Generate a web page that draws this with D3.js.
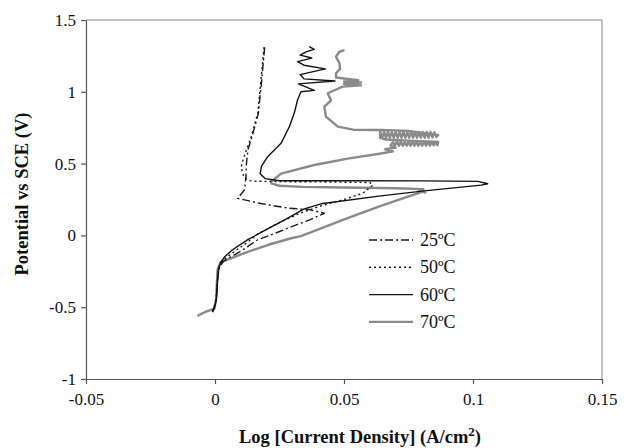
<!DOCTYPE html>
<html><head><meta charset="utf-8">
<script src="https://cdn.jsdelivr.net/npm/d3@7"></script>
<style>
html,body{margin:0;padding:0;background:#fff;}
svg text{font-family:"Liberation Serif","Times New Roman",serif;fill:#111;}
</style></head>
<body><svg id="chart" width="633" height="448"></svg>
<script>
// ---- data ----
const xTicks = [-0.05, 0, 0.05, 0.1, 0.15];
const yTicks = [-1, -0.5, 0, 0.5, 1, 1.5];
const xTickLabels = ["-0.05", "0", "0.05", "0.1", "0.15"];
const yTickLabels = ["-1", "-0.5", "0", "0.5", "1", "1.5"];
const seriesNames = ["25ºC", "50ºC", "60ºC", "70ºC"];

const curve25 = [[-0.001,-0.53],[-0.0003,-0.5],[0.0005,-0.44],[0.001,-0.3],[0.0017,-0.22],[0.0033,-0.18],[0.006,-0.15],[0.01,-0.11],[0.0166,-0.03],[0.024,0.02],[0.031,0.07],[0.037,0.11],[0.0424,0.154],[0.0365,0.18],[0.0282,0.19],[0.0178,0.222],[0.0088,0.258],[0.0114,0.316],[0.012,0.409],[0.0122,0.503],[0.0128,0.6],[0.0144,0.69],[0.0168,0.85],[0.0181,1.08],[0.0193,1.32]];

const curve50 = [[-0.001,-0.53],[-0.0003,-0.5],[0.0005,-0.44],[0.001,-0.3],[0.0016,-0.22],[0.003,-0.175],[0.0055,-0.14],[0.0085,-0.1],[0.0125,-0.05],[0.0165,0.01],[0.025,0.09],[0.033,0.155],[0.041,0.205],[0.05,0.25],[0.0572,0.293],[0.0612,0.35],[0.06,0.368],[0.045,0.372],[0.03,0.374],[0.016,0.377],[0.0128,0.382],[0.0112,0.407],[0.0101,0.476],[0.0112,0.546],[0.014,0.685],[0.0166,0.852],[0.0178,1.082],[0.0191,1.326]];

const curve60 = [[-0.001,-0.535],[-0.0003,-0.51],[0.0005,-0.45],[0.001,-0.31],[0.0014,-0.23],[0.0023,-0.185],[0.0038,-0.148],[0.0068,-0.1],[0.0127,-0.03],[0.0204,0.045],[0.0256,0.095],[0.0346,0.185],[0.0411,0.22],[0.0643,0.275],[0.0811,0.31],[0.1031,0.35],[0.1057,0.36],[0.102,0.376],[0.08,0.38],[0.05,0.381],[0.025,0.381],[0.0195,0.395],[0.0175,0.43],[0.018,0.48],[0.0204,0.548],[0.0256,0.641],[0.0288,0.757],[0.0307,0.85],[0.032,0.943],[0.0333,1.0],[0.0385,1.01],[0.0323,1.055],[0.0465,1.075],[0.0345,1.09],[0.033,1.12],[0.0428,1.16],[0.0345,1.185],[0.032,1.21],[0.0375,1.235],[0.033,1.255],[0.0355,1.28],[0.0385,1.295],[0.0365,1.315]];

const curve70 = [[-0.0068,-0.56],[-0.004,-0.535],[-0.0003,-0.51],[0.0004,-0.45],[0.0008,-0.31],[0.001,-0.24],[0.002,-0.19],[0.0049,-0.168],[0.0127,-0.114],[0.0204,-0.067],[0.0295,-0.02],[0.0333,-0.005],[0.0514,0.12],[0.0643,0.205],[0.0805,0.305],[0.0815,0.298],[0.079,0.316],[0.0808,0.322],[0.07,0.328],[0.05,0.334],[0.034,0.338],[0.025,0.346],[0.022,0.36],[0.0217,0.374],[0.0235,0.4],[0.0256,0.43],[0.0385,0.49],[0.0514,0.535],[0.0643,0.57],[0.069,0.585],[0.066,0.6],[0.07,0.612],[0.068,0.625],
 [0.069,0.652],[0.0697,0.625],[0.0705,0.652],[0.0713,0.625],[0.072,0.652],[0.0728,0.625],[0.0735,0.652],[0.0743,0.625],[0.075,0.652],[0.0758,0.625],[0.0765,0.652],[0.0773,0.625],[0.078,0.652],[0.0788,0.625],[0.0795,0.652],[0.0803,0.625],[0.081,0.652],[0.0818,0.625],[0.0825,0.652],[0.0833,0.625],[0.084,0.652],[0.0848,0.627],[0.0855,0.652],[0.0862,0.628],[0.0865,0.65],[0.075,0.66],[0.066,0.668],[0.064,0.68],
 [0.064,0.72],[0.0648,0.68],[0.0655,0.72],[0.0663,0.68],[0.067,0.72],[0.0678,0.68],[0.0685,0.72],[0.0693,0.68],[0.07,0.72],[0.0708,0.68],[0.0715,0.72],[0.0723,0.68],[0.073,0.72],[0.0738,0.68],[0.0745,0.72],[0.0753,0.68],[0.076,0.72],[0.0768,0.68],[0.0775,0.72],[0.0783,0.68],[0.079,0.72],[0.0798,0.68],[0.0805,0.72],[0.0813,0.68],[0.082,0.72],[0.0828,0.68],[0.0835,0.72],[0.0843,0.682],[0.085,0.718],[0.0858,0.685],[0.0865,0.7],[0.075,0.728],[0.0643,0.734],[0.054,0.735],[0.0476,0.757],[0.043,0.827],[0.0424,0.896],[0.045,0.94],[0.0437,0.99],[0.0495,1.036],[0.0566,1.045],[0.05,1.055],[0.0566,1.065],[0.05,1.072],[0.0555,1.08],[0.0469,1.1],[0.0469,1.129],[0.0485,1.16],[0.0482,1.2],[0.0469,1.244],[0.0482,1.279],[0.0502,1.29]];

// ---- chart ----
const svg = d3.select("#chart");
const L = 86, R = 602, T = 20, B = 379;
const x = d3.scaleLinear().domain([-0.05, 0.15]).range([L, R]);
const y = d3.scaleLinear().domain([-1, 1.5]).range([B, T]);

// frame (top / right)
svg.append("line").attr("x1", L).attr("x2", R).attr("y1", T).attr("y2", T).attr("stroke", "#888").attr("stroke-width", 1);
svg.append("line").attr("x1", R).attr("x2", R).attr("y1", T).attr("y2", B).attr("stroke", "#888").attr("stroke-width", 1);

const xAxis = svg.append("g").attr("transform", `translate(0,${B})`)
  .call(d3.axisBottom(x).tickValues(xTicks).tickSizeInner(5).tickSizeOuter(0).tickPadding(6)
    .tickFormat((d, i) => xTickLabels[i]));
const yAxis = svg.append("g").attr("transform", `translate(${L},0)`)
  .call(d3.axisLeft(y).tickValues(yTicks).tickSizeInner(5).tickSizeOuter(0).tickPadding(5)
    .tickFormat((d, i) => yTickLabels[i]));
[xAxis, yAxis].forEach(g => {
  g.selectAll("path, line").attr("stroke", "#555").attr("stroke-width", 1.2);
  g.selectAll("text").style("font-size", "17px").attr("fill", "#111");
});
xAxis.selectAll("text").attr("dy", "0.9em");

const line = d3.line().x(d => x(d[0])).y(d => y(d[1]));
const styles = [
  {data: curve25, color: "#1a1a1a", w: 1.4, dash: "8,3,2,3"},
  {data: curve50, color: "#1a1a1a", w: 1.4, dash: "2,3"},
  {data: curve60, color: "#111", w: 1.4, dash: null},
  {data: curve70, color: "#8a8a8a", w: 2.4, dash: null}
];
const plot = svg.append("g");
[3, 0, 1, 2].forEach(i => {
  const s = styles[i];
  plot.append("path").datum(s.data).attr("d", line)
    .attr("fill", "none").attr("stroke", s.color).attr("stroke-width", s.w)
    .attr("stroke-linejoin", "round")
    .attr("stroke-dasharray", s.dash);
});

// legend
const lg = svg.append("g");
seriesNames.forEach((name, i) => {
  const yy = 240 + i * 27.3;
  const s = styles[i];
  lg.append("line").attr("x1", 369).attr("x2", 413).attr("y1", yy).attr("y2", yy)
    .attr("stroke", s.color).attr("stroke-width", s.w).attr("stroke-dasharray", s.dash);
  lg.append("text").attr("x", 420).attr("y", yy + 6).style("font-size", "18px").text(name);
});

// axis titles
const xt = svg.append("text").attr("x", 360).attr("y", 443).attr("text-anchor", "middle")
  .style("font-size", "18.5px").style("font-weight", "bold");
xt.append("tspan").text("Log [Current Density] (A/cm");
xt.append("tspan").attr("dy", -7).style("font-size", "13px").text("2");
xt.append("tspan").attr("dy", 7).text(")");

svg.append("text").attr("transform", "translate(28,194) rotate(-90)").attr("text-anchor", "middle")
  .style("font-size", "18.5px").style("font-weight", "bold").text("Potential vs SCE (V)");
</script></body></html>
